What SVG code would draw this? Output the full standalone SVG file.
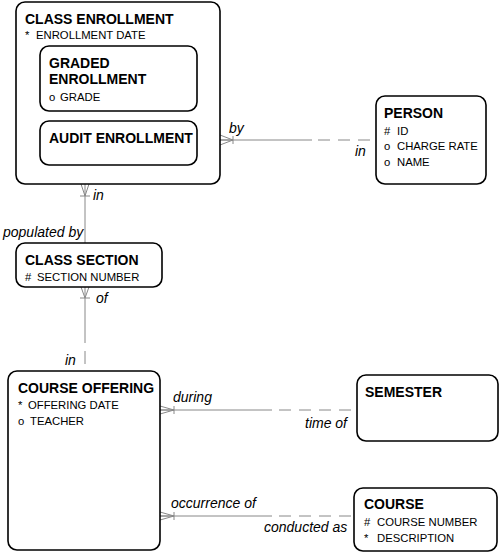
<svg xmlns="http://www.w3.org/2000/svg" width="500" height="553" viewBox="0 0 500 553">
<style>
.box{fill:#fff;stroke:#000;stroke-width:1.6}
.t{font-family:"Liberation Sans",Arial,sans-serif;font-weight:bold;font-size:14px;fill:#000}
.a{font-family:"Liberation Sans",Arial,sans-serif;font-size:11.3px;fill:#000}
.l{font-family:"Liberation Sans",Arial,sans-serif;font-style:italic;font-size:14px;fill:#000}
.ln{stroke:#888;stroke-width:1;fill:none}
.dl{stroke:#888;stroke-width:1;fill:none;stroke-dasharray:12 8}
</style>
<rect width="500" height="553" fill="#fff"/>
<g id="connectors">
  <line class="ln" x1="220" y1="140" x2="312" y2="140"/>
  <line class="dl" x1="318" y1="140" x2="376" y2="140"/>
  <path class="ln" d="M220,135 L233,140 L220,145 M220,140 L233,140 M233,136 V144"/>
  <text class="l" x="229" y="133">by</text>
  <text class="l" x="355" y="156">in</text>
  <line class="ln" x1="85" y1="184" x2="85" y2="243"/>
  <path class="ln" d="M81,184 L85,196 L89,184 M80,196 H90"/>
  <text class="l" x="93" y="200">in</text>
  <text class="l" x="3" y="237">populated by</text>
  <line class="ln" x1="85" y1="287" x2="85" y2="343"/>
  <line class="ln" x1="85" y1="351" x2="85" y2="364"/>
  <path class="ln" d="M81,287 L85,298 L89,287 M80,298 H90"/>
  <text class="l" x="96" y="303">of</text>
  <text class="l" x="65" y="365">in</text>
  <line class="ln" x1="160" y1="410" x2="272" y2="410"/>
  <line class="dl" x1="279" y1="410" x2="357" y2="410"/>
  <path class="ln" d="M160,406 L174,410 L160,414 M160,410 L174,410 M174,406 V414"/>
  <text class="l" x="173" y="402">during</text>
  <text class="l" x="305" y="428">time of</text>
  <line class="ln" x1="160" y1="516" x2="272" y2="516"/>
  <line class="dl" x1="279" y1="516" x2="354" y2="516"/>
  <path class="ln" d="M160,512 L174,516 L160,520 M160,516 L174,516 M174,512 V520"/>
  <text class="l" x="171" y="508">occurrence of</text>
  <text class="l" x="264" y="532">conducted as</text>
</g>
<g id="class-enrollment">
  <rect class="box" x="16" y="2" width="204" height="182" rx="9"/>
  <text class="t" x="25" y="23.5">CLASS ENROLLMENT</text>
  <text class="a" x="25" y="39">*</text>
  <text class="a" x="36" y="39">ENROLLMENT DATE</text>
</g>
<g id="graded-enrollment">
  <rect class="box" x="40" y="46" width="157" height="65" rx="9"/>
  <text class="t" x="49" y="68">GRADED</text>
  <text class="t" x="49" y="84">ENROLLMENT</text>
  <text class="a" x="49" y="101">o</text>
  <text class="a" x="60" y="101">GRADE</text>
</g>
<g id="audit-enrollment">
  <rect class="box" x="40" y="121" width="157" height="44" rx="9"/>
  <text class="t" x="49" y="143">AUDIT ENROLLMENT</text>
</g>
<g id="person">
  <rect class="box" x="376" y="96" width="110" height="88" rx="9"/>
  <text class="t" x="384" y="118">PERSON</text>
  <text class="a" x="384" y="134.5">#</text>
  <text class="a" x="397" y="134.5">ID</text>
  <text class="a" x="384" y="150">o</text>
  <text class="a" x="397" y="150">CHARGE RATE</text>
  <text class="a" x="384" y="166">o</text>
  <text class="a" x="397" y="166">NAME</text>
</g>
<g id="class-section">
  <rect class="box" x="16" y="243" width="146" height="44" rx="9"/>
  <text class="t" x="25" y="265">CLASS SECTION</text>
  <text class="a" x="25" y="281">#</text>
  <text class="a" x="37" y="281">SECTION NUMBER</text>
</g>
<g id="course-offering">
  <rect class="box" x="8" y="371" width="152" height="179" rx="9"/>
  <text class="t" x="18" y="393">COURSE OFFERING</text>
  <text class="a" x="18" y="409">*</text>
  <text class="a" x="28" y="409">OFFERING DATE</text>
  <text class="a" x="18" y="425">o</text>
  <text class="a" x="30" y="425">TEACHER</text>
</g>
<g id="semester">
  <rect class="box" x="357" y="375" width="141" height="66" rx="9"/>
  <text class="t" x="365" y="397">SEMESTER</text>
</g>
<g id="course">
  <rect class="box" x="354" y="488" width="143" height="63" rx="9"/>
  <text class="t" x="364" y="509">COURSE</text>
  <text class="a" x="364" y="526">#</text>
  <text class="a" x="377" y="526">COURSE NUMBER</text>
  <text class="a" x="364" y="542">*</text>
  <text class="a" x="377" y="542">DESCRIPTION</text>
</g>
</svg>
